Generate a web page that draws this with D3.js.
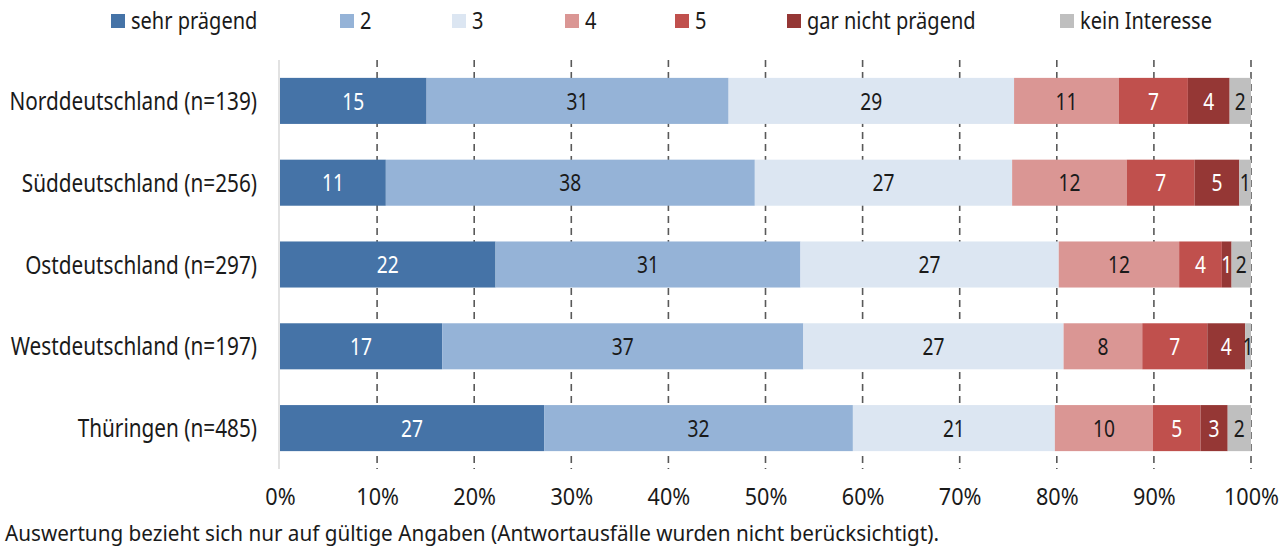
<!DOCTYPE html>
<html>
<head>
<meta charset="utf-8">
<script src="https://cdn.jsdelivr.net/npm/d3@7"></script>
<style>
  html, body { margin: 0; padding: 0; background: #fff; }
  svg { display: block; }
  text { font-family: "Noto Sans", sans-serif; font-weight: 400; fill: #1a1a1a; }
</style>
</head>
<body>
<svg id="chart" width="1288" height="549"></svg>
<script>
// Regions shown as rows (top to bottom)
const regions = [
  "Norddeutschland (n=139)",
  "Süddeutschland (n=256)",
  "Ostdeutschland (n=297)",
  "Westdeutschland (n=197)",
  "Thüringen (n=485)"
];

// Answer scale from "sehr prägend" to "gar nicht prägend", plus "kein Interesse"
const answers = ["sehr prägend", "2", "3", "4", "5", "gar nicht prägend", "kein Interesse"];

// Shares in percent per region, one array per answer category
const sehrPraegend     = [15.1, 10.9, 22.2, 16.7, 27.2];
const stufe2           = [31.1, 38.0, 31.4, 37.2, 31.8];
const stufe3           = [29.4, 26.5, 26.6, 26.8, 20.8];
const stufe4           = [10.8, 11.8, 12.4,  8.1, 10.1];
const stufe5           = [ 7.1,  7.0,  4.4,  6.7,  4.9];
const garNichtPraegend = [ 4.3,  4.6,  1.0,  3.9,  2.8];
const keinInteresse    = [ 2.2,  1.2,  2.0,  0.6,  2.4];

const seriesValues = [sehrPraegend, stufe2, stufe3, stufe4, stufe5, garNichtPraegend, keinInteresse];

const xTicks = [0, 10, 20, 30, 40, 50, 60, 70, 80, 90, 100];

const colors = ["#4573a7", "#95b3d7", "#dce6f2", "#da9694", "#c0504d", "#953735", "#bfbfbf"];
const labelColors = ["#ffffff", "#1a1a1a", "#1a1a1a", "#1a1a1a", "#ffffff", "#ffffff", "#1a1a1a"];

const footnote = "Auswertung bezieht sich nur auf gültige Angaben (Antwortausfälle wurden nicht berücksichtigt).";

// Squeeze text horizontally to get a condensed typeface look
function condense(sel, k) {
  sel.each(function() {
    const w = this.getComputedTextLength();
    d3.select(this).attr("textLength", w * k).attr("lengthAdjust", "spacingAndGlyphs");
  });
}

const svg = d3.select("#chart");

const x = d3.scaleLinear().domain([0, 100]).range([280, 1251]);
const y = d3.scaleBand().domain(regions).range([60, 469]).paddingInner(0.437).paddingOuter(0.2185);

// Table of rows for stacking
const table = regions.map((r, i) => {
  const row = { region: r };
  answers.forEach((a, j) => { row[a] = seriesValues[j][i]; });
  return row;
});
const stacked = d3.stack().keys(answers)(table);

// Dashed vertical grid lines
svg.append("g")
  .selectAll("line")
  .data(xTicks.filter(t => t > 0))
  .join("line")
  .attr("x1", d => x(d)).attr("x2", d => x(d))
  .attr("y1", 60).attr("y2", 469)
  .attr("stroke", "#595959")
  .attr("stroke-width", 1.6)
  .attr("stroke-dasharray", "7,5");

// Left axis line
svg.append("line")
  .attr("x1", 279).attr("x2", 279)
  .attr("y1", 60).attr("y2", 469)
  .attr("stroke", "#d9d9d9")
  .attr("stroke-width", 1.5);

// Stacked bars
const layers = svg.append("g")
  .selectAll("g")
  .data(stacked)
  .join("g")
  .attr("fill", (d, i) => colors[i]);

layers.selectAll("rect")
  .data(d => d)
  .join("rect")
  .attr("x", d => x(d[0]))
  .attr("y", d => y(d.data.region))
  .attr("width", d => x(d[1]) - x(d[0]))
  .attr("height", y.bandwidth());

// Value labels
svg.append("g")
  .selectAll("g")
  .data(stacked)
  .join("g")
  .each(function(layer, i) {
    d3.select(this).selectAll("text")
      .data(layer)
      .join("text")
      .attr("x", d => (x(d[0]) + x(d[1])) / 2)
      .attr("y", d => y(d.data.region) + y.bandwidth() / 2)
      .attr("dy", "0.36em")
      .attr("text-anchor", "middle")
      .style("font-size", "24px")
      .style("fill", labelColors[i])
      .text(d => Math.round(d[1] - d[0]))
      .call(condense, 0.8);
  });

// Category axis labels
svg.append("g")
  .selectAll("text")
  .data(regions)
  .join("text")
  .attr("x", 257)
  .attr("y", d => y(d) + y.bandwidth() / 2)
  .attr("dy", "0.36em")
  .attr("text-anchor", "end")
  .style("font-size", "25px")
  .text(d => d)
  .call(condense, 0.83);

// Percentage axis
const xAxis = d3.axisBottom(x).tickValues(xTicks).tickFormat(d => d + "%").tickSize(0).tickPadding(0);
const gx = svg.append("g").attr("transform", "translate(0,488)").call(xAxis);
gx.select(".domain").remove();
gx.selectAll("text")
  .attr("dy", "0.71em")
  .style("font-size", "24px")
  .style("font-family", "'Noto Sans', sans-serif")
  .style("fill", "#1a1a1a")
  .call(condense, 0.9);

// Legend
const legendX = [111, 340, 452, 565, 675, 787, 1060];
const legend = svg.append("g")
  .selectAll("g")
  .data(answers)
  .join("g")
  .attr("transform", (d, i) => `translate(${legendX[i]},14)`);
legend.append("rect")
  .attr("width", 14).attr("height", 14)
  .attr("fill", (d, i) => colors[i]);
legend.append("text")
  .attr("x", 20)
  .attr("y", 7)
  .attr("dy", "0.36em")
  .style("font-size", "23px")
  .text(d => d)
  .call(condense, 0.87);

// Footnote
svg.append("text")
  .attr("x", 5)
  .attr("y", 541)
  .style("font-size", "21px")
  .text(footnote)
  .call(condense, 0.985);
</script>
</body>
</html>
